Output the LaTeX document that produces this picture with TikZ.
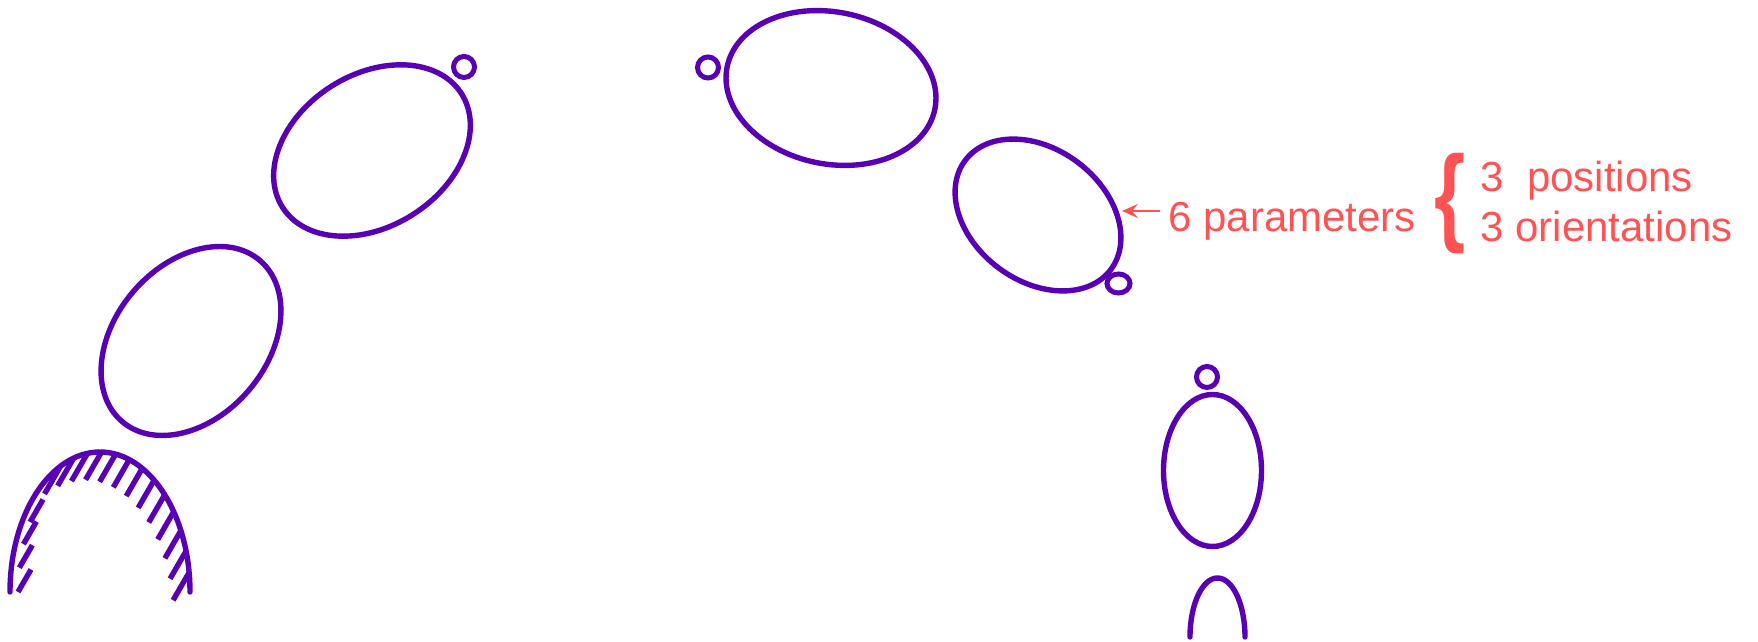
\documentclass[tikz,border=0pt]{standalone}
\usepackage{fontspec}
\setmainfont{Liberation Sans}
\usepackage{tikz}
\usetikzlibrary{arrows.meta, positioning}
\definecolor{linkcol}{HTML}{5A00B4}
\definecolor{notecol}{HTML}{FF5252}

\begin{document}
\begin{tikzpicture}[
    x=0.5pt, y=0.5pt,
    every node/.style={font=\fontsize{21}{25}\selectfont, text=notecol},
    link/.style={draw=linkcol, line width=2.7pt, line cap=round},
    joint/.style={draw=linkcol, line width=2.5pt},
    hatch/.style={draw=linkcol, line width=2.7pt},
    arrow/.style={-{Stealth[length=8pt, width=7pt, inset=3pt]}, line width=1.1pt, notecol},
    note/.style={inner sep=0pt, anchor=base west}
  ]
  \useasboundingbox (0,0) rectangle (1758,642);

  % fixed base with ground hatching
  \draw[link] (10,50) arc[start angle=180, end angle=0, x radius=90, y radius=140];
  \foreach \t in {8,17,...,116} {
    \draw[hatch] ({100+90*cos(\t)},{50+140*sin(\t)}) -- ++(240:32);
  }
  \foreach \t in {150,160,170,180} {
    \draw[hatch] ({108+90*cos(\t)},{50+140*sin(\t)}) -- ++(60:26);
  }

  % links of the chain
  \draw[link, rotate around={49.4:(191,301)}] (191,301) ellipse [x radius=106, y radius=76];
  \draw[link, rotate around={32.4:(372,491.5)}] (372,491.5) ellipse [x radius=106, y radius=76];
  \draw[link, rotate around={-11.5:(831,554)}] (831,554) ellipse [x radius=106, y radius=76];
  \draw[link, rotate around={-36.8:(1038,427)}] (1038,427) ellipse [x radius=91, y radius=66];
  \draw[link] (1212.5,171.5) ellipse [x radius=49, y radius=76];
  \draw[link] (1190,5) arc[start angle=180, end angle=0, x radius=27.5, y radius=59];

  % joints
  \draw[joint] (464,575) circle [radius=10.5];
  \draw[joint] (708,574.5) circle [radius=10.5];
  \draw[joint] (1118.5,358.5) ellipse [x radius=11.5, y radius=9.5];
  \draw[joint] (1207,265) circle [radius=10.5];

  % degrees of freedom of a link
  \coordinate (tip) at (1122,431);
  \node[note, inner sep=4pt] (params) at (1160,410) {6 parameters};
  \draw[arrow] (params.west |- tip) -- (tip);
  \node[inner sep=0pt, yscale=1.35, font=\fontsize{40}{40}\selectfont\bfseries] (brace) at (1450,438) {\{};
  \node[note] (pos) at (1480,450) {3~~positions};
  \node[note] (ori) at (1480,400) {3 orientations};
\end{tikzpicture}
\end{document}
